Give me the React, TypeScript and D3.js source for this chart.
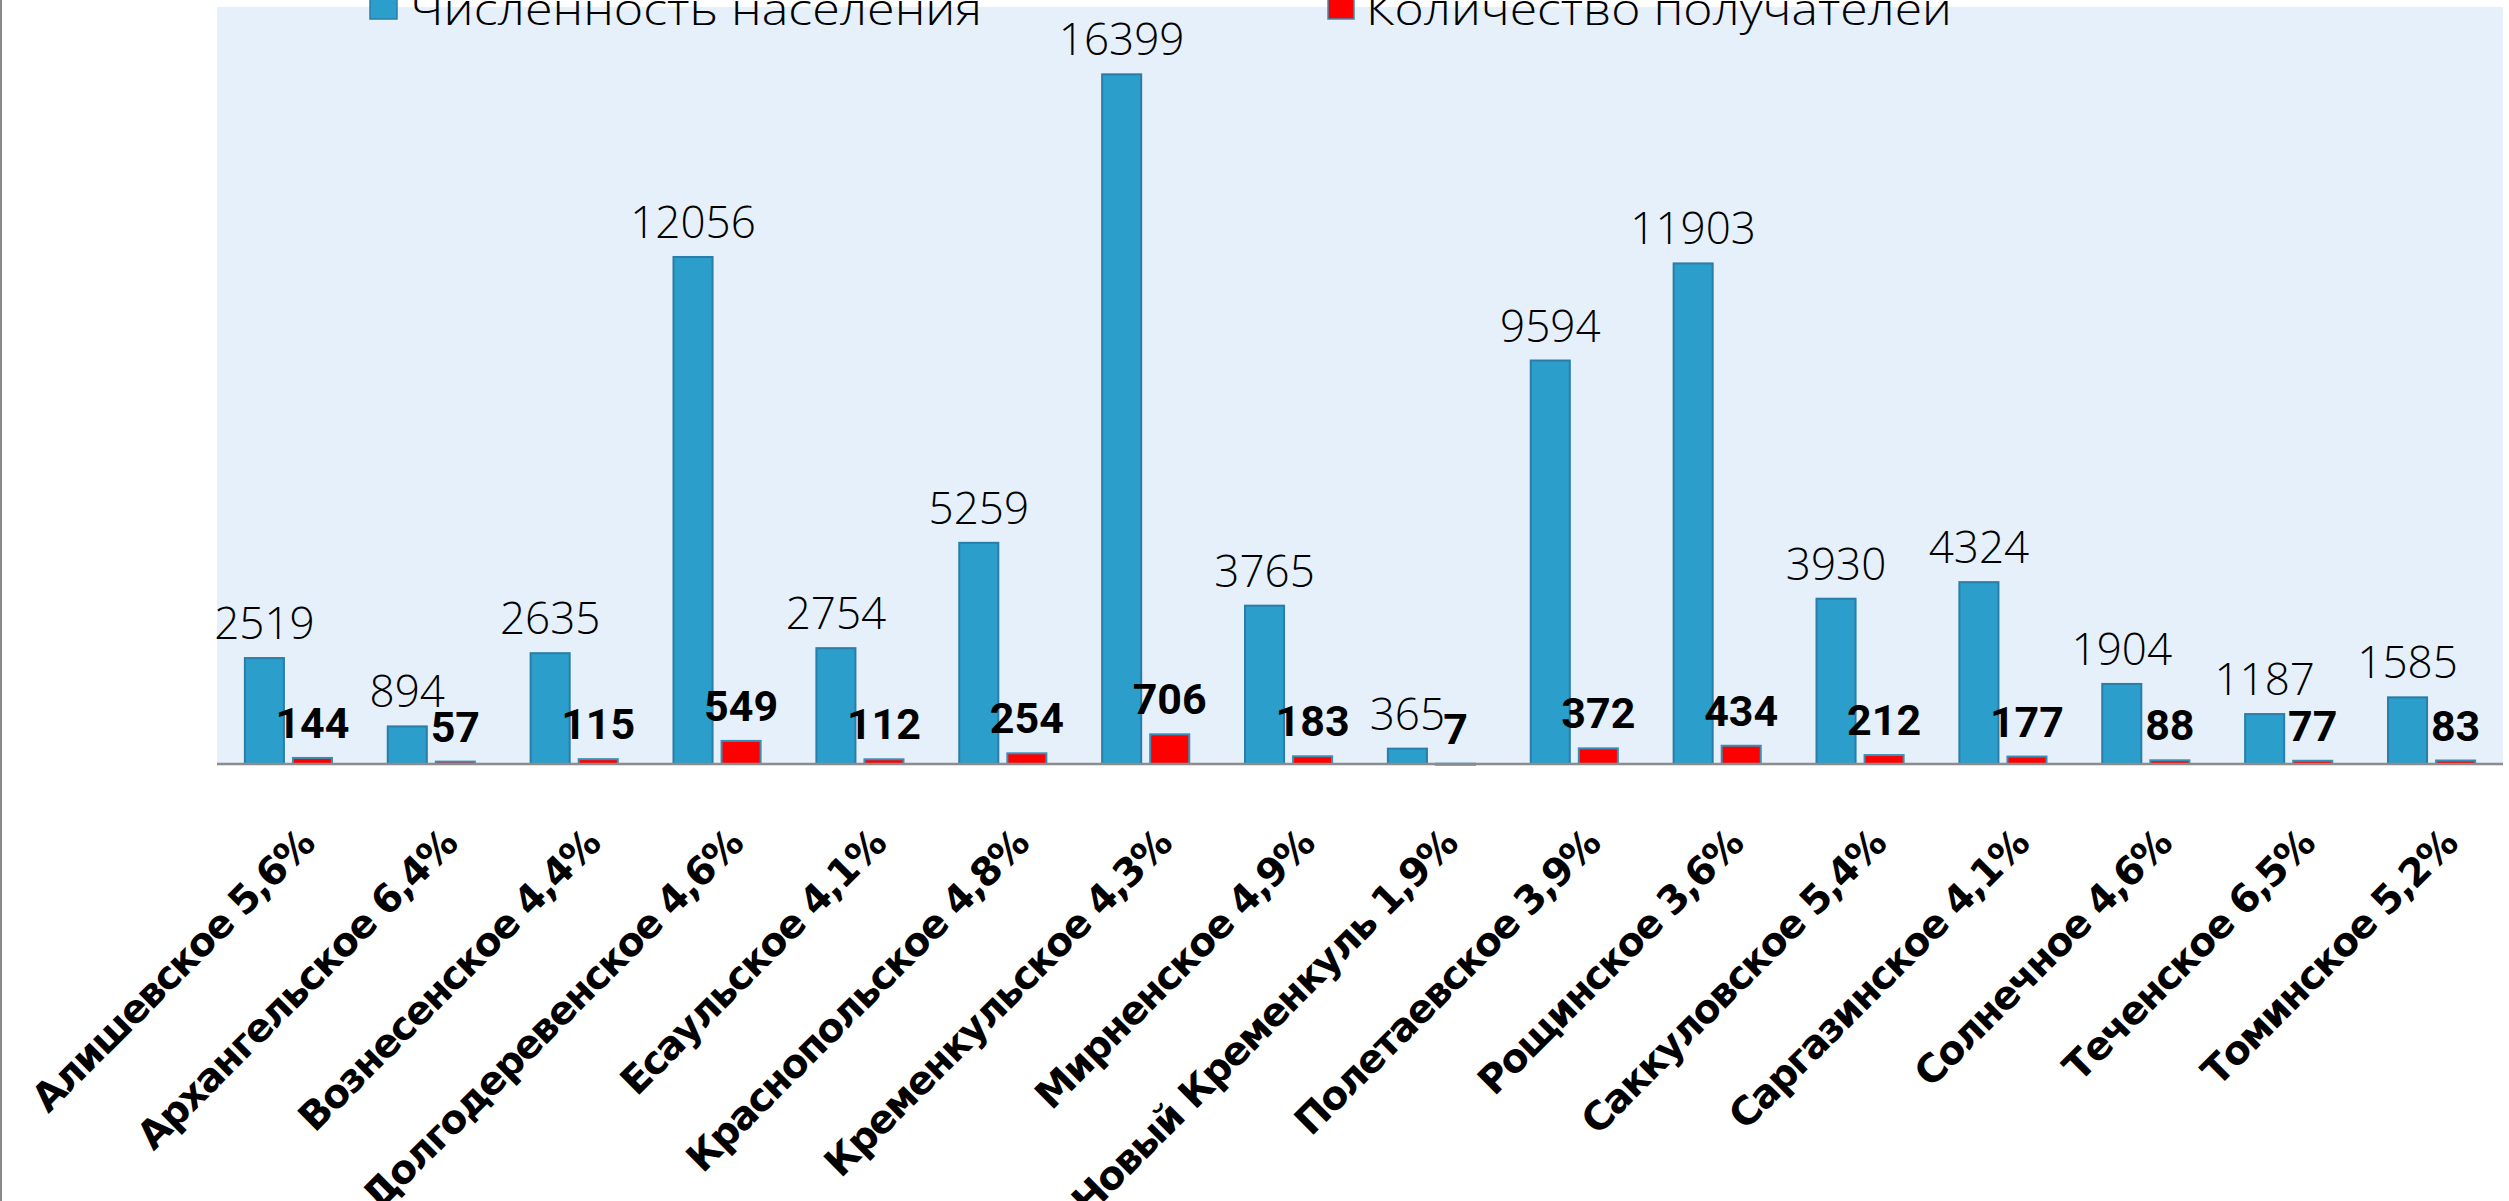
import React from "react";
import * as d3 from "d3";

const names = [
  "Алишевское", "Архангельское", "Вознесенское", "Долгодеревенское",
  "Есаульское", "Краснопольское", "Кременкульское", "Мирненское",
  "Новый Кременкуль", "Полетаевское", "Рощинское", "Саккуловское",
  "Саргазинское", "Солнечное", "Теченское", "Томинское",
];
const shares = [
  "5,6%", "6,4%", "4,4%", "4,6%", "4,1%", "4,8%", "4,3%", "4,9%",
  "1,9%", "3,9%", "3,6%", "5,4%", "4,1%", "4,6%", "6,5%", "5,2%",
];
const population = [2519, 894, 2635, 12056, 2754, 5259, 16399, 3765, 365, 9594, 11903, 3930, 4324, 1904, 1187, 1585];
const recipients = [144, 57, 115, 549, 112, 254, 706, 183, 7, 372, 434, 212, 177, 88, 77, 83];
const seriesNames = ["Численность населения", "Количество получателей"];
const yMax = 18000;

const W = 2509;
const H = 1201;
const plot = { left: 217, right: 2503, top: 7, bottom: 764 };

const BLUE = "#2B9ECB";
const BLUE_STROKE = "#2A7DA8";
const RED = "#FF0000";
const RED_STROKE = "#3A8DB6";
const BG = "#E6F0FA";

export default function App() {
  const labels = names.map((n, i) => `${n} ${shares[i]}`);
  const x = d3.scaleBand<string>().domain(labels).range([plot.left, plot.right]).padding(0);
  const inner = d3
    .scaleBand<string>()
    .domain(["pop", "rec"])
    .range([0, x.bandwidth()])
    .paddingInner(0.1875)
    .paddingOuter(0.58);
  const y = d3.scaleLinear().domain([0, yMax]).range([plot.bottom, plot.top]);

  const rows = labels.map((l, i) => ({ label: l, pop: population[i], rec: recipients[i] }));

  return (
    <svg
      width={W}
      height={H}
      style={{ position: "absolute", left: 0, top: 0, background: "#fff" }}
    >
      <rect x={0} y={0} width={W} height={H} fill="#fff" />
      <rect
        x={plot.left}
        y={plot.top}
        width={plot.right - plot.left}
        height={plot.bottom - plot.top}
        fill={BG}
      />
      <line x1={1} x2={1} y1={0} y2={H} stroke="#8a8a8a" strokeWidth={2} />

      {rows.map((r) => {
        const bx = x(r.label)!;
        const px = bx + inner("pop")!;
        const rx = bx + inner("rec")!;
        const bw = inner.bandwidth();
        return (
          <g key={r.label}>
            <rect
              x={px}
              y={y(r.pop)}
              width={bw}
              height={plot.bottom - y(r.pop)}
              fill={BLUE}
              stroke={BLUE_STROKE}
              strokeWidth={2}
            />
            <rect
              x={rx}
              y={y(r.rec)}
              width={bw}
              height={Math.max(1, plot.bottom - y(r.rec))}
              fill={RED}
              stroke={RED_STROKE}
              strokeWidth={2}
            />
            <text
              x={px + bw / 2}
              y={y(r.pop) - 19}
              textAnchor="middle"
              fontFamily="'Open Sans', 'Noto Sans', sans-serif"
              fontWeight={300}
              fontSize={44}
              fill="#000"
            >
              {r.pop}
            </text>
            <text
              x={rx + bw / 2}
              y={y(r.rec) - 20}
              textAnchor="middle"
              fontFamily="Roboto, 'Noto Sans', sans-serif"
              fontWeight={700}
              fontSize={43}
              fill="#000"
            >
              {r.rec}
            </text>
          </g>
        );
      })}

      <line
        x1={plot.left}
        x2={plot.right}
        y1={plot.bottom}
        y2={plot.bottom}
        stroke="#8c8c8c"
        strokeWidth={2.5}
      />

      {labels.map((l) => {
        const cx = x(l)! + x.bandwidth() / 2 + 28;
        const cy = 846;
        return (
          <text
            key={l}
            transform={`translate(${cx},${cy}) rotate(-45)`}
            textAnchor="end"
            fontFamily="'DejaVu Sans', sans-serif"
            fontWeight={700}
            fontSize={39}
            letterSpacing={-1.6}
            fill="#000"
          >
            {l}
          </text>
        );
      })}

      {/* legend */}
      <rect x={370} y={-8} width={27} height={27} fill={BLUE} stroke={BLUE_STROKE} strokeWidth={1.5} />
      <text
        x={410}
        y={25}
        fontFamily="'Open Sans', 'Noto Sans', sans-serif"
        fontWeight={300}
        fontSize={44}
        textLength={572}
        lengthAdjust="spacingAndGlyphs"
      >
        {seriesNames[0]}
      </text>
      <rect x={1328} y={-8} width={26} height={27} fill={RED} stroke={RED_STROKE} strokeWidth={1.5} />
      <text
        x={1366}
        y={25}
        fontFamily="'Open Sans', 'Noto Sans', sans-serif"
        fontWeight={300}
        fontSize={44}
        textLength={586}
        lengthAdjust="spacingAndGlyphs"
      >
        {seriesNames[1]}
      </text>
    </svg>
  );
}
